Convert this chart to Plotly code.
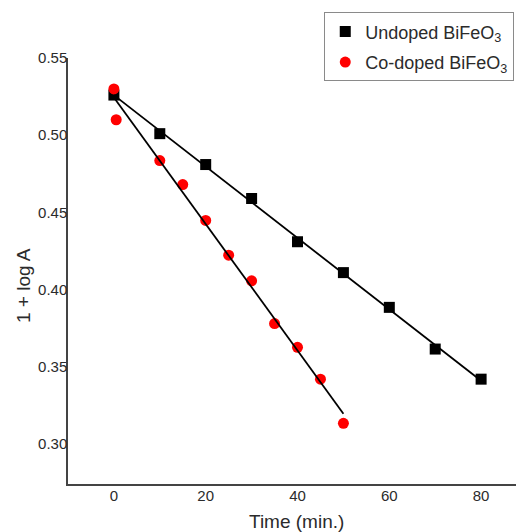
import numpy as np
import plotly.graph_objects as go

# Kinetic data: 1 + log A versus irradiation time
time_undoped = [0, 10, 20, 30, 40, 50, 60, 70, 80]
logA_undoped = [0.526, 0.501, 0.481, 0.459, 0.431, 0.411, 0.3885, 0.3615, 0.342]

time_codoped = [0, 0.5, 10, 15, 20, 25, 30, 35, 40, 45, 50]
logA_codoped = [0.530, 0.510, 0.4836, 0.468, 0.4448, 0.4223, 0.4057, 0.378, 0.3626, 0.342, 0.3134]

x_ticks = [0, 20, 40, 60, 80]
y_ticks = [0.30, 0.35, 0.40, 0.45, 0.50, 0.55]

FONT = "Liberation Sans, Arial, sans-serif"
TEXT = "#2b2b2b"


def linear_fit(x, y):
    slope, intercept = np.polyfit(x, y, 1)
    xs = np.array([min(x), max(x)], dtype=float)
    return xs, slope * xs + intercept


fig = go.Figure()

fig.add_trace(go.Scatter(
    x=time_undoped, y=logA_undoped, mode="markers",
    name="Undoped BiFeO<sub>3</sub>", legendgroup="a",
    marker=dict(symbol="square", size=11, color="black"),
))
fig.add_trace(go.Scatter(
    x=time_codoped, y=logA_codoped, mode="markers",
    name="Co-doped BiFeO<sub>3</sub>", legendgroup="b",
    marker=dict(symbol="circle", size=11, color="#ff0000"),
))

# least-squares lines drawn over the points
for tx, ty in ((time_undoped, logA_undoped), (time_codoped, logA_codoped)):
    fx, fy = linear_fit(tx, ty)
    fig.add_trace(go.Scatter(
        x=fx, y=fy, mode="lines", showlegend=False, hoverinfo="skip",
        line=dict(color="black", width=1.8),
    ))

fig.update_layout(
    width=516, height=532,
    margin=dict(l=68, r=0, t=58, b=48),
    paper_bgcolor="white", plot_bgcolor="white",
    font=dict(family=FONT, color=TEXT, size=15),
    showlegend=True,
    legend=dict(
        x=0.572, y=1.107, xanchor="left", yanchor="top",
        bordercolor="#8a8a8a", borderwidth=1, bgcolor="white",
        font=dict(family=FONT, size=18, color=TEXT),
        tracegroupgap=4, traceorder="grouped",
    ),
    xaxis=dict(
        range=[-10, 87.6], tickvals=x_ticks, showgrid=False, zeroline=False,
        showline=True, linecolor="#444444", linewidth=1.5,
        ticks="", ticklabelstandoff=-3, tickfont=dict(size=15, color=TEXT),
    ),
    yaxis=dict(
        range=[0.2741, 0.55], tickvals=y_ticks, tickformat=".2f",
        showgrid=False, zeroline=False,
        showline=True, linecolor="#444444", linewidth=1.5,
        ticks="", ticklabelstandoff=-4,
        tickfont=dict(size=15, color=TEXT),
    ),
    annotations=[
        dict(text="Time (min.)", xref="paper", yref="paper",
             x=0.51, y=-0.087, xanchor="center", yanchor="middle",
             showarrow=False, font=dict(size=19, color=TEXT)),
        dict(text="1 + log A", xref="paper", yref="paper",
             x=-0.098, y=0.465, xanchor="center", yanchor="middle",
             textangle=-90, showarrow=False, font=dict(size=19, color=TEXT)),
    ],
)

fig.write_html("out.html")
